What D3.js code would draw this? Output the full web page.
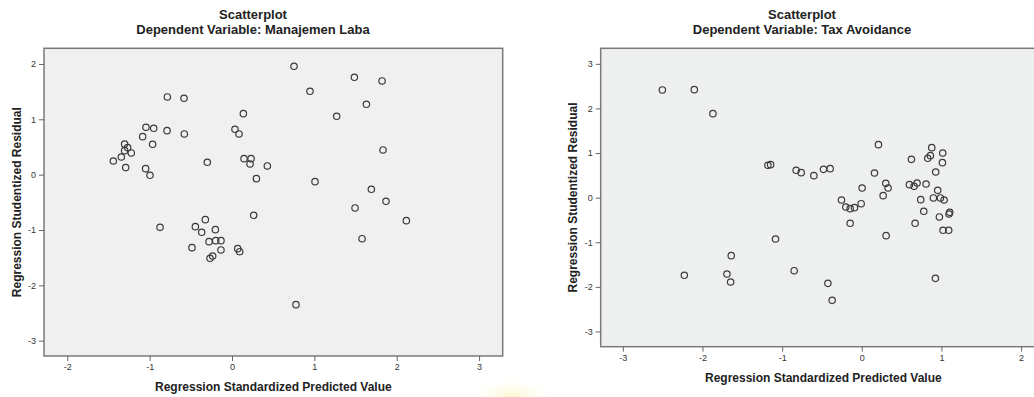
<!DOCTYPE html>
<html>
<head>
<meta charset="utf-8">
<script src="https://cdn.jsdelivr.net/npm/d3@7"></script>
<style>
  body { margin: 0; background: #fff; }
  svg { display: block; font-family: "Liberation Sans", Arial, sans-serif; }
  .tick text { font-size: 9px; fill: #333; }
  .tick line { stroke: #666; }
  .title { font-weight: bold; font-size: 12px; fill: #222; }
  .head { font-weight: bold; font-size: 13px; fill: #222; }
</style>
</head>
<body>
<div id="chart"></div>
<script>
// Dependent Variable: Manajemen Laba
const mlX = [0.753, 1.486, 1.822, 0.947, -0.785, -0.583, 1.632, 0.138, 1.271, -1.045,
  -0.951, -0.789, 0.036, 0.085, -0.579, -1.085, -1.304, -0.964, -1.267, -1.304,
  -1.223, -1.344, 1.834, -1.441, -0.300, 0.146, 0.231, 0.219, 0.429, -1.291,
  -1.049, -0.996, 0.296, 1.008, 1.692, 1.870, 1.494, 0.263, 2.117, -0.324,
  -0.874, -0.445, -0.202, -0.368, -0.279, -0.198, -0.134, 1.579, -0.486, -0.134,
  0.069, 0.093, -0.235, -0.267, 0.777];
const mlY = [1.958, 1.759, 1.693, 1.506, 1.404, 1.380, 1.271, 1.102, 1.054, 0.855,
  0.837, 0.795, 0.819, 0.735, 0.735, 0.687, 0.554, 0.548, 0.488, 0.434,
  0.392, 0.319, 0.446, 0.247, 0.223, 0.289, 0.289, 0.193, 0.157, 0.127,
  0.108, -0.012, -0.072, -0.127, -0.265, -0.482, -0.602, -0.735, -0.831, -0.813,
  -0.952, -0.940, -0.994, -1.042, -1.211, -1.193, -1.193, -1.157, -1.319, -1.361,
  -1.337, -1.392, -1.470, -1.512, -2.349];

// Dependent Variable: Tax Avoidance
const taX = [-2.504, -2.103, -1.869, 0.209, 0.878, 1.016, 0.861, 0.828, 0.623, 1.012,
  -1.179, -1.145, -0.824, -0.761, -0.481, -0.397, -0.602, 0.159, 0.928, 0.301,
  0.330, 0.004, 0.598, 0.656, 0.694, 0.807, 0.953, 0.268, 0.899, 0.987,
  1.033, -0.255, 0.740, -0.201, -0.146, -0.092, -0.008, 0.778, 1.104, 1.095,
  0.974, -0.146, 0.669, 1.020, 1.091, 0.305, -1.083, -1.639, -0.849, -1.693,
  -2.228, 0.924, -1.647, -0.426, -0.372];
const taY = [2.414, 2.421, 1.883, 1.188, 1.121, 1.001, 0.942, 0.882, 0.859, 0.785,
  0.725, 0.740, 0.613, 0.561, 0.635, 0.650, 0.493, 0.553, 0.575, 0.321,
  0.217, 0.217, 0.291, 0.254, 0.329, 0.306, 0.164, 0.045, -0.007, -0.007,
  -0.052, -0.052, -0.045, -0.209, -0.247, -0.224, -0.135, -0.306, -0.329, -0.366,
  -0.433, -0.575, -0.575, -0.732, -0.732, -0.852, -0.927, -1.300, -1.637, -1.711,
  -1.741, -1.809, -1.891, -1.921, -2.302];

const leftXTicks = [-2, -1, 0, 1, 2, 3];
const leftYTicks = [-3, -2, -1, 0, 1, 2];
const rightXTicks = [-3, -2, -1, 0, 1, 2];
const rightYTicks = [-3, -2, -1, 0, 1, 2, 3];

const width = 1034;
const height = 397;

const svg = d3.select('#chart')
              .append('svg')
              .attr('width', width)
              .attr('height', height);

// faint yellow smudge under the left chart
let grad = svg.append('defs').append('radialGradient').attr('id', 'glow');
grad.append('stop').attr('offset', '0%').attr('stop-color', '#fbf7c8');
grad.append('stop').attr('offset', '100%').attr('stop-color', '#fff').attr('stop-opacity', 0);
svg.append('ellipse')
   .attr('cx', 512).attr('cy', 398)
   .attr('rx', 45).attr('ry', 22)
   .attr('fill', 'url(#glow)');

// plain hyphen for negatives, like SPSS
const fmt = d => String(d);

function drawPanel(p) {
  let x = d3.scaleLinear().domain(p.xDomain).range([p.left, p.right]);
  let y = d3.scaleLinear().domain(p.yDomain).range([p.bottom, p.top]);

  let g = svg.append('g');

  g.append('text').attr('class', 'head')
   .attr('x', p.titleX).attr('y', 18.5)
   .attr('text-anchor', 'middle')
   .text('Scatterplot');

  g.append('text').attr('class', 'head')
   .attr('x', p.titleX).attr('y', 34)
   .attr('text-anchor', 'middle')
   .text(p.subtitle);

  // plot background + frame
  g.append('rect')
   .attr('x', p.left).attr('y', p.top)
   .attr('width', p.right - p.left).attr('height', p.bottom - p.top)
   .attr('fill', p.bg)
   .attr('stroke', '#7a7a7a')
   .attr('stroke-width', 1.5);

  g.append('g')
   .attr('transform', 'translate(0,' + p.bottom + ')')
   .call(d3.axisBottom(x).tickValues(p.xTicks).tickSize(5).tickPadding(3).tickFormat(fmt))
   .call(a => a.select('.domain').remove());

  g.append('g')
   .attr('transform', 'translate(' + p.left + ',0)')
   .call(d3.axisLeft(y).tickValues(p.yTicks).tickSize(5).tickPadding(3).tickFormat(fmt))
   .call(a => a.select('.domain').remove());

  g.selectAll('.tick text').attr('font-family', null).attr('font-size', null);

  g.append('text').attr('class', 'title')
   .attr('x', (p.left + Math.min(p.right, width)) / 2 + p.xLabelShift)
   .attr('y', p.bottom + 35)
   .attr('text-anchor', 'middle')
   .text('Regression Standardized Predicted Value');

  g.append('text').attr('class', 'title')
   .attr('transform', 'translate(' + p.yLabelX + ',' + (p.top + p.bottom) / 2 + ') rotate(-90)')
   .attr('text-anchor', 'middle')
   .attr('dy', '0.35em')
   .text('Regression Studentized Residual');

  g.selectAll('.pt')
   .data(p.xs.map((v, i) => [v, p.ys[i]]))
   .enter().append('circle')
   .attr('class', 'pt')
   .attr('cx', d => x(d[0]))
   .attr('cy', d => y(d[1]))
   .attr('r', 3.2)
   .attr('fill', 'none')
   .attr('stroke', '#3a3a3a')
   .attr('stroke-width', 1.2);
}

drawPanel({
  subtitle: 'Dependent Variable: Manajemen Laba',
  xs: mlX, ys: mlY,
  xDomain: [-2.283, 3.287], yDomain: [-3.277, 2.283],
  xTicks: leftXTicks, yTicks: leftYTicks,
  left: 44, right: 502.7, top: 48.3, bottom: 356,
  titleX: 253, yLabelX: 16.5, xLabelShift: 0,
  bg: '#f0f0f0'
});

drawPanel({
  subtitle: 'Dependent Variable: Tax Avoidance',
  xs: taX, ys: taY,
  xDomain: [-3.278, 2.3], yDomain: [-3.341, 3.348],
  xTicks: rightXTicks, yTicks: rightYTicks,
  left: 600.7, right: 1045, top: 48.3, bottom: 346.7,
  titleX: 802, yLabelX: 572.5, xLabelShift: 6,
  bg: '#eef0f0'
});
</script>
</body>
</html>
